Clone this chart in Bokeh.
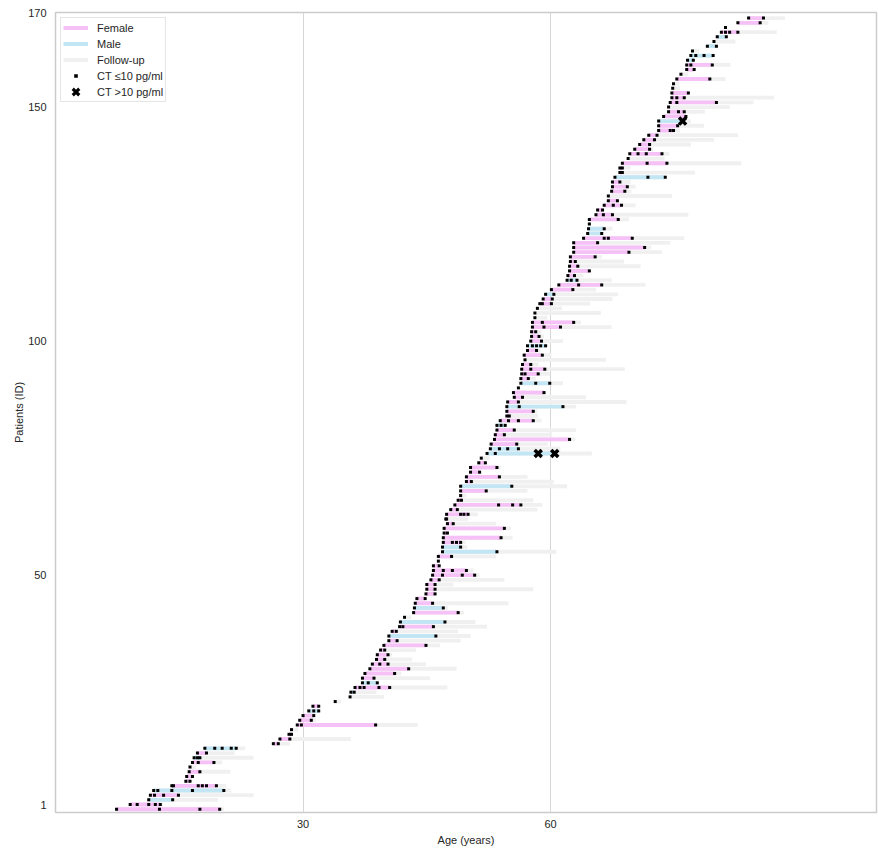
from bokeh.plotting import figure
from bokeh.models import ColumnDataSource, Range1d, FixedTicker, Legend, LegendItem
from bokeh.embed import file_html
from bokeh.resources import INLINE

# ---------------- data (ages in years, one entry per patient row) ----------------
ct_low = [
    [7.4, 12.6, 17.5, 19.9], [9.05, 9.9, 11.3, 12.1, 12.7], [11.3, 14.2], [11.5, 12.0, 13.1, 14.9],
    [11.9, 12.4, 14.1, 16.6, 20.4], [14.1, 14.3, 17.3, 17.8, 18.3, 19.5], [15.8, 16.3], [15.9, 16.6],
    [16.2, 17.5], [16.3], [16.6, 17.3, 19.2], [16.8, 17.2, 17.5], [17.2, 18.3],
    [18.1, 19.3, 20.2, 21.3, 21.9], [26.4, 27.0], [27.2, 28.4], [28.3, 28.6], [28.6],
    [29.3, 29.8, 38.8], [29.6, 31.0], [30.0, 31.3], [30.7, 31.3, 31.9], [31.2, 31.9], [33.9],
    [35.7], [35.8, 36.2], [36.3, 36.9, 37.4, 39.2, 40.5], [37.2, 37.9, 39.0], [37.2, 38.6],
    [37.5, 41.1], [38.1, 42.8], [38.4, 39.3, 40.3], [38.9, 39.9], [39.0, 40.3], [39.4, 39.9],
    [39.8, 44.9], [40.4, 41.4], [40.4, 46.1], [40.8, 41.3], [41.7, 42.1, 45.8], [41.8, 47.2],
    [42.3], [43.4, 48.8], [43.5, 47.0], [43.6, 45.7], [43.8, 44.8], [44.9, 46.0], [45.0, 46.0],
    [45.0, 46.0], [45.5, 46.5], [45.7, 46.9, 49.3, 50.8], [45.8, 47.0, 48.1, 49.8], [45.8, 46.5],
    [46.4], [46.4, 48.0], [46.9, 53.5], [46.9, 49.1], [47.0, 48.1, 48.6, 49.1], [47.0, 54.0],
    [47.1, 47.5], [47.1, 54.4], [47.5, 48.2], [47.3, 47.4], [47.4, 49.1, 49.5, 50.0], [47.9, 48.7],
    [48.4, 53.7, 55.4, 56.4], [48.8, 49.2], [49.1], [49.1, 52.2], [49.1, 55.3], [49.8, 50.4],
    [49.8, 53.8], [50.3, 51.4], [50.3, 53.5], [51.3, 52.1], [51.6], [52.3, 53.3],
    [52.7, 53.8, 54.8, 56.1], [52.8, 55.9], [53.2, 62.3], [53.3, 54.4], [53.5, 55.6],
    [53.5, 54.0, 54.5], [53.9, 54.9, 56.1, 57.9], [54.7, 55.0], [54.7, 57.9], [54.7, 56.2, 61.5],
    [54.8, 56.1], [55.6, 56.6], [55.5, 59.2], [56.1], [56.4, 58.2, 59.9], [56.4, 57.3],
    [56.5, 56.9, 58.5], [56.5, 57.6, 59.3], [56.6, 57.6], [56.9], [56.8, 59.0], [57.2, 58.3],
    [57.2, 57.8, 58.3, 58.8, 59.4], [57.6, 58.9], [57.7, 58.6], [57.7, 58.2], [57.8, 59.2, 61.2],
    [57.8, 59.0, 62.8], [58.1], [58.1], [58.4], [58.7, 59.0, 60.1], [59.1, 60.2], [59.4, 60.4],
    [60.1, 62.7], [61.0, 63.4, 66.2], [62.0, 62.5, 63.2], [62.1, 62.9], [62.3, 64.7], [62.3, 63.3],
    [62.4, 63.0], [62.4, 65.4], [62.8, 69.5], [62.8, 71.4], [62.8, 65.7], [64.0, 66.5, 67.0, 69.9],
    [64.5, 66.2], [64.6, 66.5], [64.7], [64.7, 68.2], [65.5, 66.4, 67.5], [65.7, 66.3],
    [66.5, 67.6, 68.6], [67.0, 68.1], [67.0], [67.4, 69.0], [67.5, 69.3], [67.5, 68.4],
    [67.8, 71.8, 73.9], [68.4, 68.7], [68.4, 68.7], [68.7, 71.7, 74.1], [69.4],
    [69.6, 70.6, 71.6, 73.5], [70.2, 72.0], [70.8, 72.0], [71.3, 72.6], [71.9, 72.9],
    [73.1, 74.5, 74.9], [73.1, 75.4], [73.1], [73.7, 76.4], [74.3, 75.5, 76.2], [74.3],
    [74.5, 75.3, 80.1], [74.7, 75.3, 76.2], [74.7, 76.7], [74.8], [74.9], [75.3, 79.3], [75.8],
    [76.5, 77.4], [76.5, 77.0, 79.6], [76.6, 77.3], [77.0, 77.6, 78.6, 79.7], [77.2], [79.0, 80.1],
    [79.8], [80.2, 81.3], [80.7, 81.2, 81.7, 82.7], [81.2], [82.7, 85.4], [84.0, 85.8],
]

followup_end = [
    20.4, 13.0, 19.7, 24.0, 21.3, 20.7, 16.3, 16.6, 21.2, 17.05, 20.2, 24.0, 21.7, 23.0, 28.4, 35.8,
    28.6, 29.4, 43.9, 31.6, 31.3, 31.9, 31.9, 34.6, 39.8, 38.9, 47.5, 39.0, 45.4, 41.9, 48.6, 44.9,
    43.2, 40.8, 43.7, 46.6, 49.1, 50.3, 48.8, 52.3, 50.9, 43.1, 49.5, 47.6, 54.9, 44.8, 46.0, 57.9,
    48.2, 54.4, 51.4, 50.7, 46.5, 46.4, 53.4, 60.7, 49.9, 49.7, 55.4, 47.5, 55.2, 53.4, 50.0, 51.2,
    58.4, 59.0, 57.9, 49.8, 57.2, 62.0, 60.4, 57.2, 51.4, 54.0, 52.1, 52.6, 65.0, 61.2, 59.7, 63.0,
    60.2, 63.1, 54.5, 58.9, 58.5, 58.4, 63.1, 69.2, 64.3, 59.5, 56.1, 61.5, 58.2, 59.9, 69.0, 58.5,
    66.7, 60.1, 58.8, 59.4, 61.5, 59.2, 58.9, 67.4, 63.7, 59.6, 66.1, 61.4, 64.8, 67.5, 68.2, 65.5,
    71.5, 67.4, 64.0, 64.7, 70.9, 68.9, 66.2, 73.5, 72.2, 74.5, 76.2, 66.2, 67.5, 64.7, 69.5, 76.7,
    66.3, 70.3, 68.1, 74.7, 69.8, 70.3, 69.7, 73.9, 77.5, 69.7, 83.1, 73.8, 74.4, 72.4, 77.0, 79.8,
    82.7, 75.7, 78.6, 77.0, 76.4, 78.7, 81.7, 84.6, 87.1, 76.7, 75.7, 75.6, 81.2, 76.7, 77.4, 81.8,
    77.3, 79.7, 78.0, 80.1, 82.4, 81.3, 87.4, 81.2, 86.4, 88.4,
]

male_rows = [2, 4, 11, 13, 21, 25, 27, 37, 40, 43, 55, 56, 69, 76, 77, 82, 86, 91, 99, 110,
             113, 123, 124, 135, 147, 160, 161, 163, 165]

# CT > 10 pg/ml measurements
high_rows = [76, 76, 147]
high_ages = [58.5, 60.5, 76.0]

y_ticks = [1, 50, 100, 150, 170]
x_ticks = [30, 60]

# ---------------- build sources ----------------
PINK = "#F6C1F6"
BLUE = "#C3E6F4"
GRAY = "#F0F0F0"
TEXT = "#262626"

n = len(ct_low)
rows = list(range(n))
starts, ends, colors = [], [], []
for i in rows:
    allc = ct_low[i] + [a for r, a in zip(high_rows, high_ages) if r == i]
    starts.append(min(allc))
    ends.append(max(allc))
    colors.append(BLUE if i in male_rows else PINK)

gray_src = ColumnDataSource(dict(y=rows, left=starts, right=[max(f, e) for f, e in zip(followup_end, ends)]))
bar_src = ColumnDataSource(dict(y=rows, left=starts, right=ends, color=colors))

dot_x, dot_y = [], []
for i in rows:
    for a in ct_low[i]:
        dot_x.append(a)
        dot_y.append(i)

p = figure(width=878, height=850, output_backend="svg", toolbar_location=None,
           x_range=Range1d(0, 99.5), y_range=Range1d(-0.7, 170.2),
           min_border_left=55, min_border_right=2, min_border_top=12, min_border_bottom=38)

p.hbar(y="y", left="left", right="right", height=0.82, source=gray_src,
       fill_color=GRAY, line_color=None)
p.hbar(y="y", left="left", right="right", height=0.82, source=bar_src,
       fill_color="color", line_color=None)
p.scatter(dot_x, dot_y, marker="square", size=3, fill_color="black", line_color=None)
p.scatter(high_ages, high_rows, marker="x", size=10, line_color="black", line_width=3.5)

# legend proxies (placed outside the visible range)
lf = p.line([-20, -19], [-20, -20], line_color=PINK, line_width=4)
lm = p.line([-20, -19], [-20, -20], line_color=BLUE, line_width=4)
lg = p.line([-20, -19], [-20, -20], line_color=GRAY, line_width=4)
# legend markers are sized from the glyph box; a white rim keeps the square small
ls = p.scatter([-20], [-20], marker="square", size=6, fill_color="black",
               line_color="white", line_width=2.4)
lx = p.scatter([-20], [-20], marker="x", size=6, line_color="black", line_width=3.2,
               line_cap="square")

legend = Legend(items=[
    LegendItem(label="Female", renderers=[lf]),
    LegendItem(label="Male", renderers=[lm]),
    LegendItem(label="Follow-up", renderers=[lg]),
    LegendItem(label="CT ≤10 pg/ml", renderers=[ls]),
    LegendItem(label="CT >10 pg/ml", renderers=[lx]),
], location="top_left")
legend.margin = 5
legend.padding = 2
legend.spacing = 1
legend.glyph_height = 15
legend.glyph_width = 25
legend.label_height = 15
legend.label_standoff = 9
legend.label_text_font = "Liberation Sans"
legend.label_text_font_size = "11px"
legend.label_text_color = TEXT
legend.border_line_color = "#cccccc"
legend.border_line_width = 1
legend.background_fill_color = "white"
legend.background_fill_alpha = 1.0
p.add_layout(legend)

# axes
p.xaxis.ticker = FixedTicker(ticks=x_ticks)
p.yaxis.ticker = FixedTicker(ticks=y_ticks)
p.xaxis.axis_label = "Age (years)"
p.yaxis.axis_label = "Patients (ID)"
for ax in (p.xaxis[0], p.yaxis[0]):
    ax.axis_line_color = None
    ax.major_tick_line_color = None
    ax.minor_tick_line_color = None
    ax.major_tick_out = 0
    ax.major_tick_in = 0
    ax.minor_tick_out = 0
    ax.minor_tick_in = 0
    ax.major_label_text_font = "Liberation Sans"
    ax.major_label_text_font_size = "11px"
    ax.major_label_text_color = TEXT
    ax.axis_label_text_font = "Liberation Sans"
    ax.axis_label_text_font_size = "11px"
    ax.axis_label_text_font_style = "normal"
    ax.axis_label_text_color = TEXT
p.xaxis.major_label_standoff = 7
p.xaxis.axis_label_standoff = 3
p.yaxis.major_label_standoff = 9
p.yaxis.axis_label_standoff = 0

p.xgrid.ticker = FixedTicker(ticks=x_ticks)
p.xgrid.grid_line_color = "#d6d6d6"
p.xgrid.grid_line_width = 1
p.ygrid.visible = False

p.outline_line_color = "#cccccc"
p.outline_line_width = 1.5
p.background_fill_color = "white"
p.border_fill_color = "white"

open("out.html", "w").write(file_html(p, INLINE))
